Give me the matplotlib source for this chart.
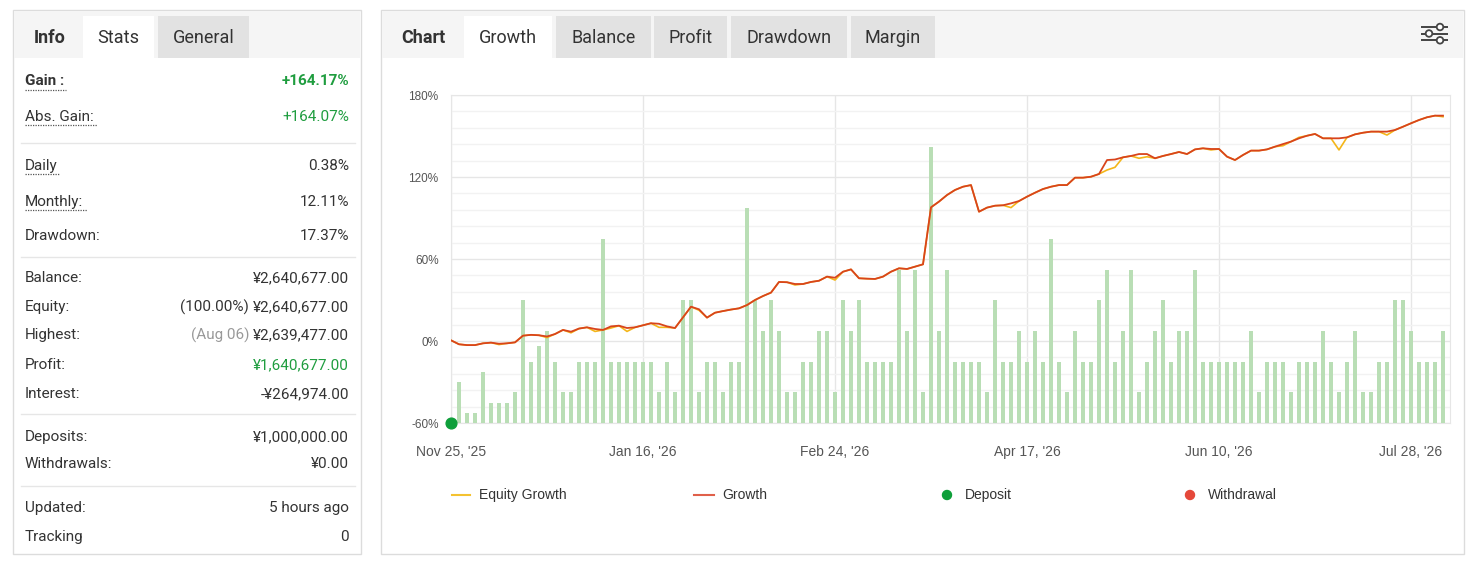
import matplotlib
matplotlib.use("Agg")
import matplotlib.pyplot as plt
from matplotlib.patches import Rectangle, Circle
import numpy as np

plt.rcParams['font.family'] = ['Roboto', 'DejaVu Sans']

# ---- data ----
tick_pos = [0, 24, 48, 72, 96, 120]
tick_labels = ["Nov 25, '25", "Jan 16, '26", "Feb 24, '26", "Apr 17, '26", "Jun 10, '26", "Jul 28, '26"]

growth = [0.5, -2.4, -3, -3, -1.7, -1.2, -2.0, -1.7, -1, 3.9,
          4.5, 4.2, 3.3, 5.1, 8.1, 6.8, 9.1, 10, 8.8, 8.1,
          10.7, 11.2, 9.5, 10, 11.5, 13, 12.6, 10.7, 9.5, 17.3,
          25.1, 23.2, 17.1, 20.7, 21.9, 23, 23.9, 26.3, 30, 32.9,
          35.4, 43.2, 43, 41.7, 41.7, 43.2, 44.1, 47.1, 46.3, 50.7,
          52.4, 45.9, 45.6, 45.4, 47.1, 50.7, 53.2, 52.7, 54.4, 56.1,
          97.8, 102, 106.8, 110.5, 112.9, 114.1, 94.6, 97.6, 99, 99.3,
          100.7, 102.4, 105.6, 108.5, 111.2, 112.9, 114.1, 114.1, 119.5, 119.5,
          120.2, 122.2, 132.4, 132.8, 134.4, 135.4, 136.8, 136.8, 133.7, 135.4,
          136.8, 138.3, 136.8, 140.2, 141, 140.5, 140.5, 134.9, 132.4, 136.1,
          139.3, 139.3, 140.2, 142.2, 144.1, 145.9, 148.3, 150.2, 151.5, 148.3,
          148.3, 148.3, 149, 151.2, 152.4, 153.2, 153.2, 153.2, 154.4, 156.8,
          159.3, 161.7, 163.7, 164.9, 164.9]

equity = [0.5, -2.4, -3, -3, -1.7, -1.2, -2.6, -1.7, -1, 3.9,
          4.5, 4.2, 2.5, 5.1, 8.1, 6.0, 9.1, 10, 7.0, 8.1,
          9.5, 11.2, 7.0, 10, 11.5, 13, 10.0, 10.0, 9.5, 17.3,
          25.1, 22.5, 17.1, 20.7, 21.9, 23, 23.9, 26.3, 30, 32.9,
          35.4, 43.2, 43, 41.0, 41.7, 43.2, 44.1, 47.1, 44.6, 50.7,
          52.4, 45.9, 45.6, 45.4, 47.1, 50.7, 53.2, 52.7, 54.4, 56.1,
          97.8, 102, 106.8, 110.5, 112.9, 114.1, 94.6, 97.6, 99, 99.3,
          97.6, 102.4, 105.6, 108.5, 111.2, 112.9, 114.1, 114.1, 119.5, 119.5,
          120.2, 122.2, 125.1, 127.1, 134.4, 135.4, 133.7, 134.8, 133.7, 135.4,
          136.8, 138.3, 136.8, 140.2, 141, 139.8, 140.5, 134.9, 132.4, 136.1,
          139.3, 139.3, 140.2, 142.2, 142.9, 145.9, 149.0, 150.2, 151.5, 148.3,
          148.3, 139.8, 149, 151.2, 152.4, 153.2, 153.2, 150.7, 154.4, 156.8,
          159.3, 161.7, 163.7, 164.9, 164.1]

bars = [0, 4, 1, 1, 5, 2, 2, 2, 3, 12,
        6, 7.5, 9, 6, 3, 3, 6, 6, 6, 18,
        6, 6, 6, 6, 6, 6, 3, 6, 3, 12,
        12, 3, 6, 6, 3, 6, 6, 21, 12, 9,
        12, 9, 3, 3, 6, 6, 9, 9, 3, 12,
        9, 12, 6, 6, 6, 6, 15, 9, 15, 3,
        27, 9, 15, 6, 6, 6, 6, 3, 12, 6,
        6, 9, 6, 9, 6, 18, 6, 3, 9, 6,
        6, 12, 15, 6, 9, 15, 3, 6, 9, 12,
        6, 9, 9, 15, 6, 6, 6, 6, 6, 6,
        9, 3, 6, 6, 6, 3, 6, 6, 6, 9,
        6, 3, 6, 9, 3, 3, 6, 6, 12, 12,
        9, 6, 6, 6, 9]

deposit_idx = [0]
deposit_val = [-60]

stats_labels = ["Gain :", "Abs. Gain:", "Daily", "Monthly:", "Drawdown:",
                "Balance:", "Equity:", "Highest:", "Profit:", "Interest:",
                "Deposits:", "Withdrawals:", "Updated:", "Tracking"]
stats_values = ["+164.17%", "+164.07%", "0.38%", "12.11%", "17.37%",
                "¥2,640,677.00", "¥2,640,677.00", "¥2,639,477.00", "¥1,640,677.00", "-¥264,974.00",
                "¥1,000,000.00", "¥0.00", "5 hours ago", "0"]
stats_prefix = {6: "(100.00%) ", 7: "(Aug 06) "}

W, H = 1472, 562
fig = plt.figure(figsize=(W / 100, H / 100), dpi=100)
fig.patch.set_facecolor('white')

ui = fig.add_axes([0, 0, 1, 1])
ui.set_xlim(0, W)
ui.set_ylim(H, 0)
ui.axis('off')

GREEN = '#1f9d3f'
TXT = '#333333'
BORDER = '#dcdcdc'

# ---- left panel ----
ui.add_patch(Rectangle((13, 10), 348, 544, facecolor='white', edgecolor=BORDER, lw=1))
ui.add_patch(Rectangle((14, 11), 346, 47, facecolor='#f5f5f5', edgecolor='none'))
ui.add_patch(Rectangle((83, 16), 71, 43, facecolor='white', edgecolor='none'))
ui.add_patch(Rectangle((158, 16), 91, 42, facecolor='#e2e2e2', edgecolor='none'))
ui.text(49.5, 38, "Info", fontsize=13, fontweight='bold', color=TXT, ha='center', va='center')
ui.text(118.5, 38, "Stats", fontsize=13, color=TXT, ha='center', va='center')
ui.text(203.5, 38, "General", fontsize=13, color=TXT, ha='center', va='center')

row_y = [81, 117, 166, 202, 236, 278, 307, 335, 365, 394, 437, 464, 508, 537]
underline = {0: (66, 90), 1: (97, 125), 2: (59, 174), 3: (87, 210)}
for i, (lab, val) in enumerate(zip(stats_labels, stats_values)):
    bold = i == 0
    ui.text(25, row_y[i], lab, fontsize=11, color=TXT, ha='left', va='center',
            fontweight='bold' if bold else 'normal')
    col = GREEN if i in (0, 1, 8) else TXT
    t = ui.text(349, row_y[i], val, fontsize=11, color=col, ha='right', va='center',
                fontweight='bold' if bold else 'normal')
    if i in underline:
        x1, yy = underline[i]
        ui.plot([25, x1], [yy, yy], color='#555555', lw=0.9, ls=(0, (1, 1)))
    if i in stats_prefix:
        pcol = '#999999' if i == 7 else TXT
        ui.annotate(stats_prefix[i], xy=(0, 0.5), xycoords=t, ha='right', va='center',
                    fontsize=11, color=pcol)
for sy in [143, 257, 414, 486]:
    ui.plot([21, 355], [sy, sy], color='#e6e6e6', lw=1)

# ---- right panel ----
ui.add_patch(Rectangle((381, 10), 1083, 544, facecolor='white', edgecolor=BORDER, lw=1))
ui.add_patch(Rectangle((382, 11), 1081, 47, facecolor='#f5f5f5', edgecolor='none'))
tabs = [("Growth", 464, 552, 'white'), ("Balance", 556, 651, '#e2e2e2'),
        ("Profit", 654, 727, '#e2e2e2'), ("Drawdown", 731, 847, '#e2e2e2'),
        ("Margin", 851, 935, '#e2e2e2')]
ui.text(423, 38, "Chart", fontsize=13, fontweight='bold', color=TXT, ha='center', va='center')
for name, x0, x1, fc in tabs:
    ui.add_patch(Rectangle((x0, 16), x1 - x0, 43 if fc == 'white' else 42, facecolor=fc, edgecolor='none'))
    ui.text((x0 + x1) / 2, 38, name, fontsize=13, color=TXT, ha='center', va='center')

# settings icon
for ly, cx in [(27, 1440), (33.5, 1429), (40.3, 1440)]:
    ui.plot([1421, 1448], [ly, ly], color='#444444', lw=1.4, solid_capstyle='butt')
    ui.add_patch(Circle((cx, ly), 3.3, facecolor='white', edgecolor='#444444', lw=1.3, zorder=3))

# ---- chart ----
L, R, T, B = 451, 1450, 95, 423
rect = [L / W, 1 - B / H, (R - L) / W, (B - T) / H]
xmax = (R - L) / 8.0

ax = fig.add_axes(rect)
ax.set_xlim(0, xmax)
ax.set_ylim(-60, 180)
ax.set_yticks([-60, 0, 60, 120, 180])
ax.set_yticklabels(['-60%', '0%', '60%', '120%', '180%'])
ax.set_yticks(np.arange(-60, 181, 12), minor=True)
ax.set_xticks(tick_pos)
ax.set_xticklabels(tick_labels)
ax.grid(True, which='major', color='#e6e6e6', lw=1)
ax.grid(True, which='minor', axis='y', color='#f2f2f2', lw=1)
ax.tick_params(axis='both', which='both', length=0)
ax.tick_params(axis='y', labelsize=8.5, labelcolor='#555555', pad=9)
ax.tick_params(axis='x', labelsize=10, labelcolor='#555555', pad=16)
for lab in ax.get_xticklabels() + ax.get_yticklabels():
    lab.set_family(['Liberation Sans', 'DejaVu Sans'])
for s in ax.spines.values():
    s.set_color('#e6e6e6')

ax_b = fig.add_axes(rect, sharex=ax)
ax_b.patch.set_visible(False)
ax_b.axis('off')
ax_b.set_ylim(0, (B - T) / 10.23)
ax_b.bar(np.arange(len(bars)), bars, width=0.5, color='#b9deb5', zorder=1)

ax_l = fig.add_axes(rect, sharex=ax, sharey=ax)
ax_l.patch.set_visible(False)
ax_l.axis('off')
xs = np.arange(len(growth))
ax_l.plot(xs, equity, color='#f4b619', lw=1.2, zorder=2)
ax_l.plot(xs, growth, color='#d8441c', lw=1.3, zorder=3)
ax_l.scatter(deposit_idx, deposit_val, s=60, color='#0e9f3a', zorder=5, clip_on=False)
ax_l.set_xlim(0, xmax)

# ---- legend ----
LY = 495
ui.plot([452, 470], [LY, LY], color='#f4c230', lw=1.5)
ui.text(479, LY, "Equity Growth", fontsize=10, color=TXT, va='center', family=['Liberation Sans'])
ui.plot([694, 714], [LY, LY], color='#e0604a', lw=1.5)
ui.text(722, LY, "Growth", fontsize=10, color=TXT, va='center', family=['Liberation Sans'])
ui.add_patch(Circle((947, LY), 4.5, color='#0e9f3a'))
ui.text(965, LY, "Deposit", fontsize=10, color=TXT, va='center', family=['Liberation Sans'])
ui.add_patch(Circle((1190, LY), 4.5, color='#e5483a'))
ui.text(1208, LY, "Withdrawal", fontsize=10, color=TXT, va='center', family=['Liberation Sans'])

fig.savefig('out.png', dpi=100)
